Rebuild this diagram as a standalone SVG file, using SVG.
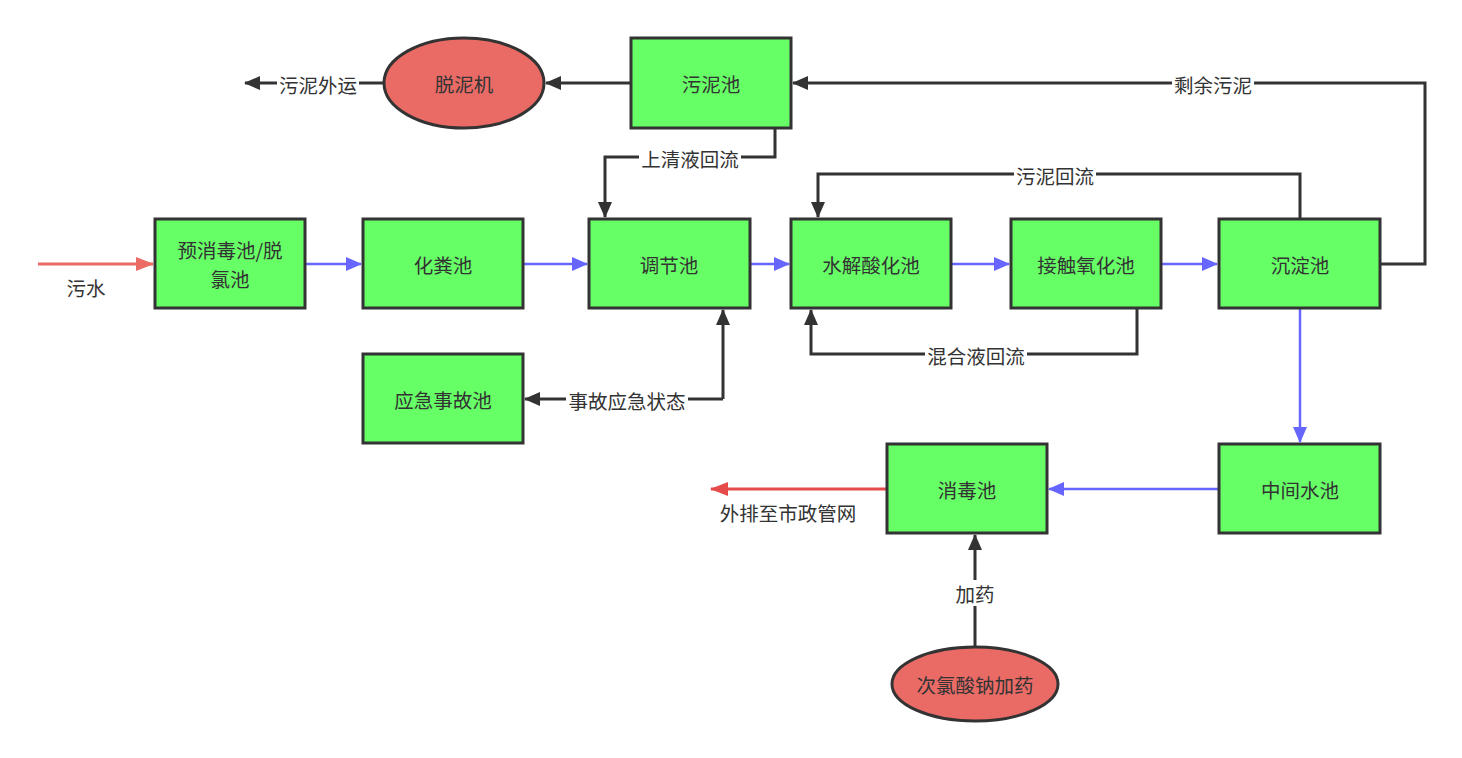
<svg xmlns="http://www.w3.org/2000/svg" width="1462" height="758" viewBox="0 0 1462 758">
<style>
.box{fill:#66FF66;stroke:#333333;stroke-width:3}
.ell{fill:#EA6B66;stroke:#333333;stroke-width:3}
text{font-family:"Noto Sans CJK SC","Noto Sans",sans-serif;font-size:19.5px;fill:#333333;text-anchor:middle;dominant-baseline:central}
.dk{fill:none;stroke:#333333;stroke-width:3}
.bl{fill:none;stroke:#6666FF;stroke-width:2.5}
.rd{fill:none;stroke:#EA6B66;stroke-width:3}
.rd2{fill:none;stroke:#E54B4B;stroke-width:3}
.lb{fill:#FFFFFF}
</style>
<defs>
<marker id="mdk" markerUnits="userSpaceOnUse" markerWidth="16" markerHeight="14" refX="15" refY="7" orient="auto"><path d="M0,0 L16,7 L0,14 Z" fill="#333333"/></marker>
<marker id="mbl" markerUnits="userSpaceOnUse" markerWidth="16" markerHeight="14" refX="15" refY="7" orient="auto"><path d="M0,0 L16,7 L0,14 Z" fill="#6666FF"/></marker>
<marker id="mrd" markerUnits="userSpaceOnUse" markerWidth="18" markerHeight="14" refX="17" refY="7" orient="auto"><path d="M0,0 L18,7 L0,14 Z" fill="#EA6B66"/></marker>
<marker id="mrd2" markerUnits="userSpaceOnUse" markerWidth="18" markerHeight="14" refX="17" refY="7" orient="auto"><path d="M0,0 L18,7 L0,14 Z" fill="#E54B4B"/></marker>
</defs>
<rect width="1462" height="758" fill="#FFFFFF"/>
<g id="connectors">
<path class="rd" d="M38,264 H153" marker-end="url(#mrd)"/>
<path class="bl" d="M305,264 H361" marker-end="url(#mbl)"/>
<path class="bl" d="M523,264 H587" marker-end="url(#mbl)"/>
<path class="bl" d="M750,264 H789" marker-end="url(#mbl)"/>
<path class="bl" d="M951,264 H1009" marker-end="url(#mbl)"/>
<path class="bl" d="M1161,264 H1217" marker-end="url(#mbl)"/>
<path class="bl" d="M1300,308 V442" marker-end="url(#mbl)"/>
<path class="bl" d="M1219,489 H1049" marker-end="url(#mbl)"/>
<path class="rd2" d="M887,489 H711" marker-end="url(#mrd2)"/>
<path class="dk" d="M631,83 H546" marker-end="url(#mdk)"/>
<path class="dk" d="M384,83 H245" marker-end="url(#mdk)"/>
<path class="dk" d="M1380,264 H1425 V83 H793" marker-end="url(#mdk)"/>
<path class="dk" d="M1300,219 V174 H818 V217" marker-end="url(#mdk)"/>
<path class="dk" d="M1137,308 V354 H811 V310" marker-end="url(#mdk)"/>
<path class="dk" d="M775,128 V157 H605 V217" marker-end="url(#mdk)"/>
<path class="dk" d="M723,399 V310" marker-end="url(#mdk)"/>
<path class="dk" d="M723,399 H525" marker-end="url(#mdk)"/>
<path class="dk" d="M975,647 V535" marker-end="url(#mdk)"/>
<rect class="lb" x="277" y="71" width="82" height="26"/>
<text x="318" y="84">污泥外运</text>
<rect class="lb" x="1172" y="71" width="82" height="26"/>
<text x="1213" y="84">剩余污泥</text>
<rect class="lb" x="639" y="145" width="102" height="26"/>
<text x="690" y="158">上清液回流</text>
<rect class="lb" x="1014" y="162" width="82" height="26"/>
<text x="1055" y="175">污泥回流</text>
<rect class="lb" x="925" y="342" width="102" height="26"/>
<text x="976" y="355">混合液回流</text>
<rect class="lb" x="566" y="387" width="122" height="26"/>
<text x="627" y="400">事故应急状态</text>
<rect class="lb" x="954" y="580" width="42" height="26"/>
<text x="975" y="593">加药</text>
<text x="86" y="287">污水</text>
<text x="788" y="512">外排至市政管网</text>
</g>
<g id="n1"><rect class="box" x="155" y="219" width="150" height="89"/><text x="230" y="249"><tspan x="230" y="249">预消毒池/脱</tspan><tspan x="230" y="278">氯池</tspan></text></g>
<g id="n2"><rect class="box" x="363" y="219" width="160" height="89"/><text x="443" y="264">化粪池</text></g>
<g id="n3"><rect class="box" x="589" y="219" width="161" height="89"/><text x="669" y="264">调节池</text></g>
<g id="n4"><rect class="box" x="791" y="219" width="160" height="89"/><text x="871" y="264">水解酸化池</text></g>
<g id="n5"><rect class="box" x="1011" y="219" width="150" height="89"/><text x="1086" y="264">接触氧化池</text></g>
<g id="n6"><rect class="box" x="1219" y="219" width="161" height="89"/><text x="1300" y="264">沉淀池</text></g>
<g id="n7"><rect class="box" x="631" y="38" width="160" height="90"/><text x="711" y="83">污泥池</text></g>
<g id="n8"><ellipse class="ell" cx="464" cy="83" rx="80" ry="45"/><text x="464" y="83">脱泥机</text></g>
<g id="n9"><rect class="box" x="363" y="354" width="160" height="89"/><text x="443" y="399">应急事故池</text></g>
<g id="n10"><rect class="box" x="887" y="444" width="160" height="89"/><text x="967" y="489">消毒池</text></g>
<g id="n11"><rect class="box" x="1219" y="444" width="161" height="89"/><text x="1300" y="489">中间水池</text></g>
<g id="n12"><ellipse class="ell" cx="975" cy="684" rx="83" ry="37"/><text x="975" y="684">次氯酸钠加药</text></g>
</svg>
